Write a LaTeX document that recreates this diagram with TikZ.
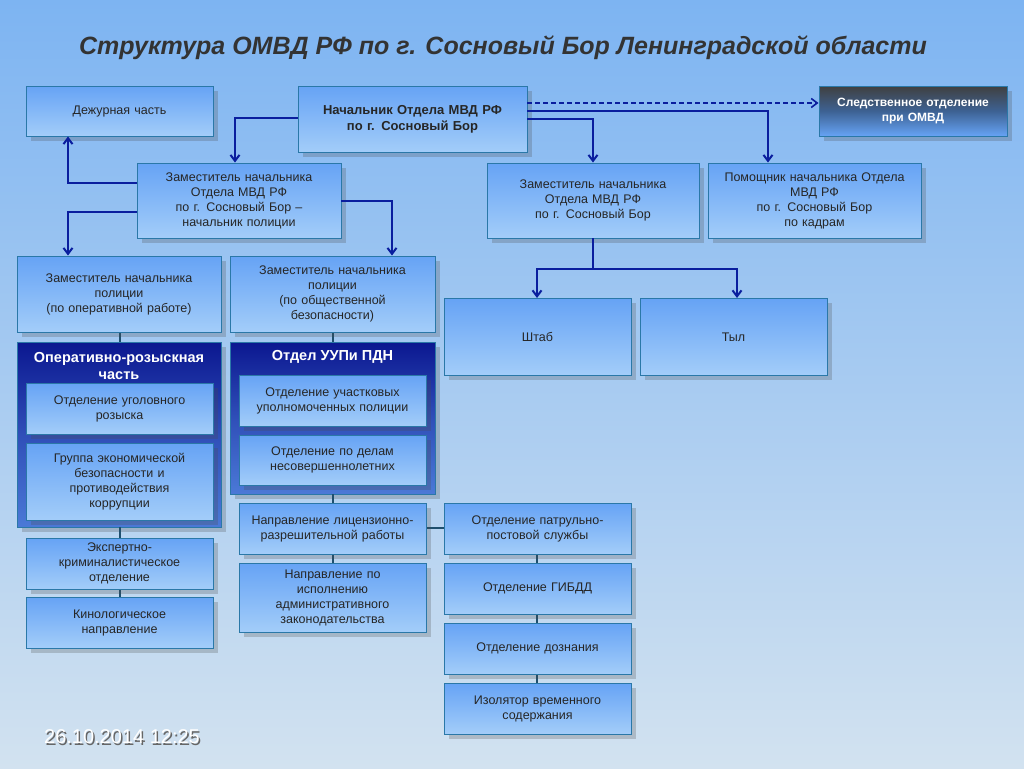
\documentclass[tikz,border=0pt]{standalone}
\usepackage{fontspec}
\setmainfont{Liberation Sans}
\usetikzlibrary{shadows,arrows.meta}
\definecolor{bgtop}{HTML}{7DB4F2}
\definecolor{bgbot}{HTML}{D2E2F0}
\definecolor{btop}{HTML}{66A3F5}
\definecolor{bbot}{HTML}{A3CDF9}
\definecolor{bedge}{HTML}{2A78A8}
\definecolor{arr}{HTML}{0A1E9E}
\definecolor{grp}{HTML}{0B1790}
\definecolor{lnk}{HTML}{1F4F6E}
\tikzset{x=1pt,y=-1pt,
 bx/.style={draw=bedge,line width=0.9pt,top color=btop,bottom color=bbot,
  drop shadow={shadow xshift=5pt,shadow yshift=-5pt,opacity=0.25,fill=black!70},
  align=center,font=\fontsize{12.5}{15}\selectfont,text=black!85,inner sep=1pt},
 gp/.style={draw=bedge,line width=0.9pt,top color=grp,bottom color=btop!70!grp,middle color=btop!40!grp,
  drop shadow={shadow xshift=5pt,shadow yshift=-5pt,opacity=0.25,fill=black!70}},
 ar/.style={draw=arr,line width=2pt,-{Straight Barb[length=6pt,width=9pt]}},
 ln/.style={draw=lnk,line width=2pt}}
\begin{document}
\begin{tikzpicture}
\shade[top color=bgtop,bottom color=bgbot] (0,0) rectangle (1024,768);
\useasboundingbox (0,0) rectangle (1024,768);
\node[font=\fontsize{25}{30}\selectfont\bfseries\itshape,text=black!80] (title) at (503,48) {Структура ОМВД РФ по г. Сосновый Бор Ленинградской области};
% groups
\node[gp,minimum width=204,minimum height=185] (orch) at (119,434.5) {};
\node[gp,minimum width=205,minimum height=152] (uup) at (332.5,418) {};
\node[font=\fontsize{14.5}{17}\selectfont\bfseries,text=white,align=center] (orcht) at (119,366) {Оперативно-розыскная\\часть};
\node[font=\fontsize{14.5}{17}\selectfont\bfseries,text=white] (uupt) at (332.5,357) {Отдел УУПи ПДН};
% connectors between small boxes (behind)
\draw[ln] (120,332) -- (120,342);
\draw[ln] (333,332) -- (333,342);
\draw[ln] (333,494) -- (333,503);
\draw[ln] (333,554) -- (333,563);
\draw[ln] (120,527) -- (120,538);
\draw[ln] (120,589) -- (120,597);
\draw[ln] (537,554) -- (537,563);
\draw[ln] (537,614) -- (537,623);
\draw[ln] (537,674) -- (537,683);
\draw[ln] (426,528) -- (444,528);
% boxes
\newcommand{\B}[6]{\node[bx,minimum width={#3-#1},minimum height={#4-#2},text width={#3-#1-4}] (#5) at ({(#1+#3)/2},{(#2+#4)/2}) {#6};}
\B{26}{86}{213}{136}{duty}{Дежурная часть}
\node[bx,minimum width=229,minimum height=66,text width=225,font=\fontsize{13}{16}\selectfont\bfseries] (boss) at (412.5,119) {Начальник Отдела МВД РФ\\по г. Сосновый Бор};
\node[bx,top color=black!75,bottom color=btop,middle color=btop!60!black,text=white,minimum width=188,minimum height=50,text width=184,font=\fontsize{12}{15}\selectfont\bfseries] (sled) at (913,111) {Следственное отделение\\при ОМВД};
\B{137}{163}{341}{238}{z1}{Заместитель начальника\\Отдела МВД РФ\\по г. Сосновый Бор –\\начальник полиции}
\B{487}{163}{699}{238}{z2}{Заместитель начальника\\Отдела МВД РФ\\по г. Сосновый Бор}
\B{708}{163}{921}{238}{pom}{Помощник начальника Отдела\\МВД РФ\\по г. Сосновый Бор\\по кадрам}
\B{17}{256}{221}{332}{zop}{Заместитель начальника\\полиции\\(по оперативной работе)}
\B{230}{256}{435}{332}{zob}{Заместитель начальника\\полиции\\(по общественной\\безопасности)}
\node[bx,minimum width=187,minimum height=77,anchor=north] (shtab) at (537.5,298) {};
\node[font=\fontsize{12.5}{15}\selectfont,text=black!85] (shtabt) at (537.5,337) {Штаб};
\node[bx,minimum width=187,minimum height=77,anchor=north] (tyl) at (733.5,298) {};
\node[font=\fontsize{12.5}{15}\selectfont,text=black!85] (tylt) at (733.5,337) {Тыл};
\B{26}{383}{213}{434}{ugol}{Отделение уголовного\\розыска}
\B{26}{443}{213}{520}{ekon}{Группа экономической\\безопасности и\\противодействия\\коррупции}
\B{239}{375}{426}{426}{uch}{Отделение участковых\\уполномоченных полиции}
\B{239}{435}{426}{485}{pdn}{Отделение по делам\\несовершеннолетних}
\B{239}{503}{426}{554}{lic}{Направление лицензионно-\\разрешительной работы}
\B{239}{563}{426}{632}{adm}{Направление по\\исполнению\\административного\\законодательства}
\B{26}{538}{213}{589}{eksp}{Экспертно-\\криминалистическое\\отделение}
\B{26}{597}{213}{648}{kin}{Кинологическое\\направление}
\B{444}{503}{631}{554}{pps}{Отделение патрульно-\\постовой службы}
\B{444}{563}{631}{614}{gibdd}{Отделение ГИБДД}
\B{444}{623}{631}{674}{dozn}{Отделение дознания}
\B{444}{683}{631}{734}{ivs}{Изолятор временного\\содержания}
% arrows
\draw[ar] (boss.west|-0,118) -| (z1.north-|235,0);
\draw[ar,line width=1.6pt,dash pattern=on 5pt off 3pt] (boss.east|-0,103) -- (sled.west|-0,103);
\draw[ar] (boss.east|-0,111) -| (pom.north-|768,0);
\draw[ar] (boss.east|-0,119) -| (z2.north-|593,0);
\draw[ar] (z1.west|-0,183) -| (duty.south-|68,0);
\draw[ar] (z1.west|-0,212) -| (zop.north-|68,0);
\draw[ar] (z1.east|-0,201) -| (zob.north-|392,0);
\coordinate (split) at (593,269);
\draw[draw=arr,line width=2pt] (z2.south-|593,0) -- (split);
\draw[ar] (split) -| (shtab.north-|537,0);
\draw[ar] (split) -| (tyl.north-|737,0);
\node[font=\fontsize{20}{24}\selectfont,text=black!60] (d0) at (123.5,738.5) {26.10.2014 12:25};
\node[font=\fontsize{20}{24}\selectfont,text=white] (date) at (122,737) {26.10.2014 12:25};
\end{tikzpicture}
\end{document}
